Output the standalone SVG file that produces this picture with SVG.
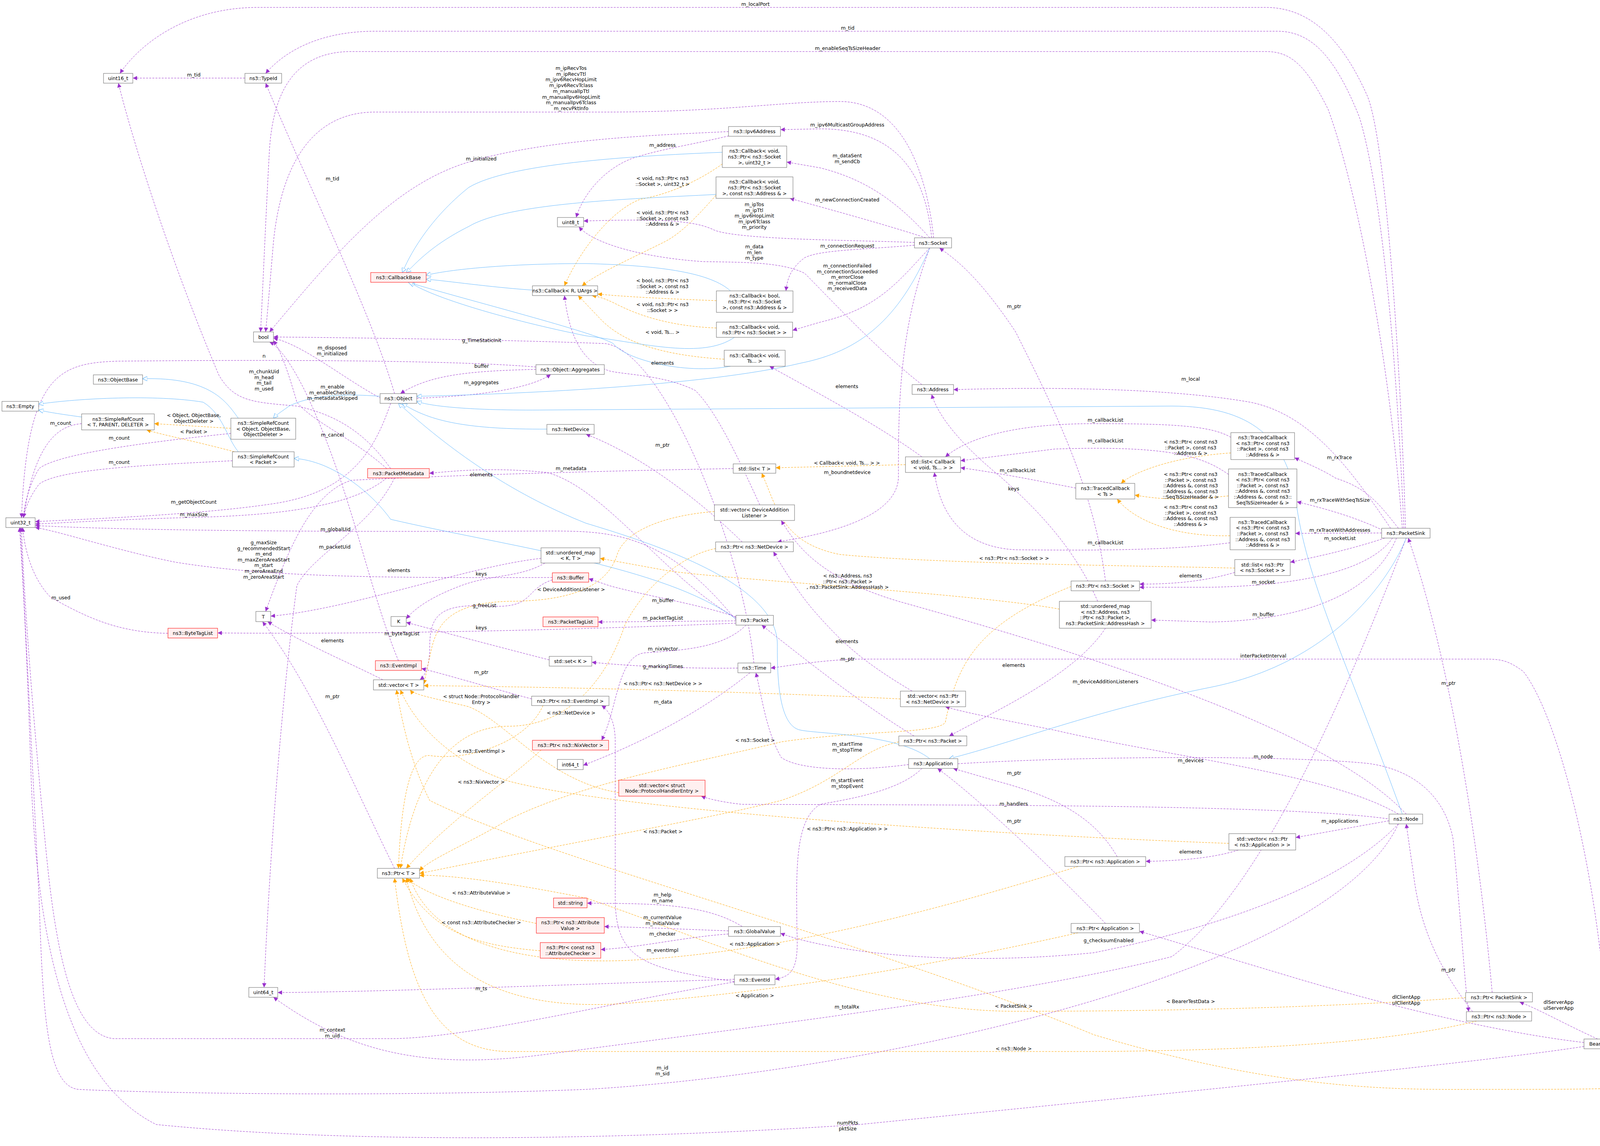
<svg xmlns="http://www.w3.org/2000/svg" width="4717" height="2935" viewBox="0 0 4717 2935">
<style>
text{font-family:"DejaVu Sans","Liberation Sans",sans-serif;font-size:12.5px;fill:#000;text-anchor:middle}
.nd rect{fill:#fff;stroke:#666;stroke-width:1}
.rd rect{fill:#fff0f0;stroke:#f00;stroke-width:1}
.gd rect{fill:#999;stroke:#666;stroke-width:1}
.p{fill:none;stroke:#9a32cd;stroke-width:1;stroke-dasharray:5,3;marker-end:url(#mp)}
.o{fill:none;stroke:#ffa500;stroke-width:1;stroke-dasharray:5,3;marker-end:url(#mo)}
.b{fill:none;stroke:#63b8ff;stroke-width:1;marker-end:url(#mb)}
</style>
<defs>
<marker id="mp" viewBox="0 0 10 10" refX="10" refY="5" markerWidth="11" markerHeight="11" markerUnits="userSpaceOnUse" orient="auto"><path d="M0,0 L10,5 L0,10 z" fill="#9a32cd"/></marker>
<marker id="mo" viewBox="0 0 10 10" refX="10" refY="5" markerWidth="11" markerHeight="11" markerUnits="userSpaceOnUse" orient="auto"><path d="M0,0 L10,5 L0,10 z" fill="#ffa500"/></marker>
<marker id="mb" viewBox="0 0 10 10" refX="10" refY="5" markerWidth="12" markerHeight="12" markerUnits="userSpaceOnUse" orient="auto"><path d="M0,0 L10,5 L0,10 z" fill="#fff" stroke="#63b8ff"/></marker>
</defs>
<rect width="4717" height="2935" fill="#fff"/>
<g id="edges">
<path class="p" d="M3598,1353 C3585,900 3545,350 3500,245 C3440,110 3360,19 3240,19 L660,19 C480,19 360,110 307,188"/>
<path class="p" d="M3594,1353 C3575,900 3535,480 3480,300 C3420,150 3360,80 3270,80 L960,80 C820,80 730,130 680,188"/>
<path class="p" d="M3590,1353 C3560,950 3480,500 3400,280 C3340,160 3300,132 3240,132 L900,132 C750,132 700,240 690,380 C680,560 672,760 667,850"/>
<path class="p" d="M2390,609 C2370,420 2300,260 2150,260 C2000,260 1850,287 1550,287 L960,287 C800,287 720,420 700,620 C690,740 683,820 680,850"/>
<path class="p" d="M1865,337 C1700,345 1400,355 1200,415 C1000,475 850,660 690,850"/>
<path class="p" d="M1866,348 C1750,375 1700,380 1620,405 C1540,435 1490,505 1475,557"/>
<path class="p" d="M2341,621 C2200,615 1900,615 1830,590 C1780,565 1700,560 1494,566"/>
<path class="p" d="M2360,985 C2250,900 2120,760 2060,700 C2000,670 1900,672 1800,670 C1650,660 1520,625 1482,581"/>
<path class="p" d="M2385,609 C2370,450 2300,330 2100,330 L1998,332"/>
<path class="p" d="M2380,609 C2300,520 2220,460 2100,430 L2014,415"/>
<path class="p" d="M2370,609 C2250,570 2100,530 2022,508"/>
<path class="p" d="M2341,628 C2200,640 2100,640 2060,660 C2020,690 2015,720 2012,745"/>
<path class="p" d="M2380,635 C2300,720 2250,790 2100,825 L2029,846"/>
<path class="p" d="M2380,635 C2300,850 2300,1050 2300,1220 C2300,1330 2100,1370 1990,1388"/>
<path class="p" d="M2830,1488 C2800,1250 2700,1050 2600,850 C2500,700 2440,660 2405,635"/>
<path class="p" d="M2360,1170 C2250,1090 2100,1010 1970,938"/>
<path class="p" d="M3560,1353 C3450,1190 3350,1060 3200,1030 C3000,995 2700,990 2441,998"/>
<path class="p" d="M3151,1120 C3100,1090 3000,1085 2800,1085 C2600,1085 2480,1120 2420,1170"/>
<path class="p" d="M3145,1215 C3080,1170 3000,1140 2700,1150 L2459,1180"/>
<path class="p" d="M2754,1250 C2650,1230 2550,1210 2459,1198"/>
<path class="p" d="M3149,1390 C3000,1410 2800,1410 2600,1408 C2450,1400 2405,1300 2392,1210"/>
<path class="p" d="M2810,1540 C2750,1400 2650,1300 2560,1220 C2450,1130 2400,1060 2385,1010"/>
<path class="p" d="M3580,1353 C3530,1290 3500,1250 3420,1225 C3380,1200 3340,1185 3314,1172"/>
<path class="p" d="M3540,1358 C3460,1320 3380,1300 3320,1285"/>
<path class="p" d="M3537,1365 L3316,1366"/>
<path class="p" d="M3545,1378 C3450,1410 3350,1430 3303,1440"/>
<path class="p" d="M3565,1378 C3500,1470 3300,1500 3100,1504 L2917,1504"/>
<path class="p" d="M3575,1378 C3500,1560 3250,1590 3100,1593 L2947,1588"/>
<path class="p" d="M3161,1466 C3080,1490 3000,1496 2917,1496"/>
<path class="p" d="M4115,2661 C4100,2300 4000,1850 3900,1720 C3860,1690 3840,1688 3800,1688 L2200,1688 C2100,1690 2000,1708 1973,1711"/>
<path class="p" d="M2830,1609 C2750,1730 2550,1820 2430,1885"/>
<path class="p" d="M2335,1770 C2200,1690 2150,1640 2080,1560 C2030,1500 1990,1430 1980,1413"/>
<path class="p" d="M2340,1885 C2200,1800 2050,1680 1950,1601"/>
<path class="p" d="M3600,2085 C3400,1870 2800,1680 2300,1540 C2100,1480 2040,1400 2000,1333"/>
<path class="p" d="M3580,2085 C3400,1980 3000,1940 2700,1870 C2550,1840 2470,1825 2420,1810"/>
<path class="p" d="M2452,1956 C2800,1935 3300,1935 3500,1955 C3620,1970 3700,2040 3720,2150 C3740,2350 3750,2530 3760,2591"/>
<path class="p" d="M3560,2098 C3300,2060 2500,2062 1900,2060 C1850,2055 1810,2045 1795,2039"/>
<path class="p" d="M3556,2102 L3317,2145"/>
<path class="p" d="M3170,2177 C3100,2200 3000,2205 2933,2206"/>
<path class="p" d="M2860,2194 C2800,2090 2700,2040 2550,2000 L2440,1968"/>
<path class="p" d="M2830,2365 C2700,2230 2500,2040 2400,1968"/>
<path class="p" d="M2326,1958 C2200,1975 2050,1975 2000,1940 C1960,1870 1950,1780 1935,1723"/>
<path class="p" d="M2360,1968 C2300,2030 2150,2050 2100,2060 C2030,2100 2040,2250 2040,2380 C2045,2480 2030,2500 1984,2508"/>
<path class="p" d="M1900,1388 C1800,1290 1650,1170 1500,1112"/>
<path class="p" d="M1884,1580 C1800,1550 1650,1525 1560,1500 L1507,1482"/>
<path class="p" d="M1884,1590 L1531,1593"/>
<path class="p" d="M1884,1596 C1500,1612 1000,1625 557,1621"/>
<path class="p" d="M1910,1601 C1850,1660 1750,1665 1650,1672 C1580,1680 1580,1820 1540,1896"/>
<path class="p" d="M1884,1582 C1700,1480 1550,1250 1400,1210 C1250,1195 1150,1208 1099,1212"/>
<path class="p" d="M1889,1711 C1750,1713 1600,1705 1515,1696"/>
<path class="p" d="M1920,1723 C1800,1820 1650,1900 1493,1960"/>
<path class="p" d="M1361,1790 C1250,1760 1150,1730 1079,1712"/>
<path class="p" d="M1406,1690 C1250,1650 1100,1610 1040,1594"/>
<path class="p" d="M1395,1442 C1330,1480 1260,1470 1180,1500 C1100,1530 1060,1560 1040,1585"/>
<path class="p" d="M1385,1430 C1200,1450 900,1560 693,1578"/>
<path class="p" d="M980,1741 C900,1700 780,1650 685,1592"/>
<path class="p" d="M1010,2224 C900,2000 800,1760 672,1592"/>
<path class="p" d="M1414,1485 C1340,1510 1370,1560 1250,1552 C1120,1545 1100,1580 1100,1660 C1100,1700 1090,1730 1075,1741"/>
<path class="p" d="M1414,1479 C1000,1480 700,1480 450,1440 C300,1410 150,1360 90,1351"/>
<path class="p" d="M1000,1033 C960,1150 900,1260 700,1290 C500,1320 200,1330 90,1336"/>
<path class="p" d="M990,1224 C900,1300 700,1320 500,1325 C300,1330 150,1340 90,1342"/>
<path class="p" d="M1884,1588 C1700,1360 1560,1360 1400,1360 C1000,1362 400,1362 90,1346"/>
<path class="p" d="M1010,1224 C950,1350 800,1420 760,1500 C720,1800 690,2200 676,2529"/>
<path class="p" d="M990,1200 C900,1120 800,1080 760,1030 C740,960 720,900 700,872"/>
<path class="p" d="M975,1020 C880,970 780,885 700,866"/>
<path class="p" d="M1372,940 C1200,925 800,920 300,925 C150,930 70,960 55,1326"/>
<path class="p" d="M1372,946 C1200,950 1100,960 1025,1008"/>
<path class="p" d="M1067,1020 C1200,1015 1350,1000 1410,959"/>
<path class="p" d="M1010,1008 C950,800 800,500 680,213"/>
<path class="p" d="M627,200 L340,200"/>
<path class="p" d="M1000,1200 C930,1100 850,1060 760,1040 C650,1030 600,1030 560,960 C450,700 350,400 303,213"/>
<path class="p" d="M1020,1692 C940,1500 900,1250 780,1000 C740,920 710,885 690,876"/>
<path class="p" d="M209,1085 C150,1090 90,1130 60,1326"/>
<path class="p" d="M591,1110 C400,1130 150,1160 100,1200 C70,1250 62,1300 60,1326"/>
<path class="p" d="M595,1180 C400,1190 150,1200 100,1240 C70,1280 63,1310 60,1326"/>
<path class="p" d="M430,1622 C300,1620 220,1580 130,1530 C80,1480 62,1400 58,1351"/>
<path class="p" d="M1880,2508 C1500,2520 1000,2540 711,2542"/>
<path class="p" d="M1880,2515 C1600,2560 1200,2660 1000,2660 L290,2660 C200,2650 150,2500 120,2200 C80,1800 60,1500 55,1351"/>
<path class="p" d="M3580,2110 C3400,2500 2200,2750 1500,2790 C1000,2810 400,2800 200,2790 C120,2780 110,2600 100,2300 C80,1900 60,1500 52,1351"/>
<path class="p" d="M4055,2680 C3800,2720 3000,2800 2200,2880 C1600,2920 900,2930 400,2880 C200,2780 100,2500 80,2000 C70,1700 60,1500 50,1351"/>
<path class="p" d="M3600,1378 C3400,1900 3200,2300 3000,2450 C2600,2550 2000,2620 1400,2700 C1100,2740 900,2700 700,2554"/>
<path class="p" d="M1900,2373 C1800,2310 1650,2315 1503,2313"/>
<path class="p" d="M1865,2384 C1750,2380 1650,2375 1547,2373"/>
<path class="p" d="M1865,2392 C1750,2400 1650,2425 1538,2432"/>
<path class="p" d="M1880,2514 C1650,2480 1575,2460 1575,2300 L1575,1900 C1575,1850 1560,1820 1540,1807"/>
<path class="p" d="M3580,2110 C3400,2300 3000,2400 2800,2440 C2400,2480 2100,2430 1998,2390"/>
<path class="p" d="M3770,2591 C3700,2500 3640,2400 3620,2250 L3600,2110"/>
<path class="p" d="M3820,2542 C3780,2100 3700,1650 3605,1378"/>
<path class="p" d="M4090,2661 C4000,2620 3950,2590 3890,2566"/>
<path class="p" d="M4055,2670 C3800,2640 3500,2560 3300,2500 C3100,2440 3000,2410 2917,2385"/>
<path class="p" d="M4350,2738 C4250,2710 4200,2700 4165,2686"/>
<path class="p" style="stroke-width:3" d="M4614,2751 L4512,2751"/>
<path class="p" d="M1945,1293 C1880,1150 1830,1050 1780,1000 C1700,960 1600,960 1560,950 C1500,930 1460,880 1445,757"/>
<path class="p" d="M1877,1200 C1600,1205 1200,1215 900,1230 C800,1260 740,1400 680,1566"/>
<path class="p" d="M1930,1698 C1900,1400 1700,900 1550,880 C1300,870 900,865 700,863"/>
<path class="o" d="M1849,420 C1780,470 1700,500 1640,510 C1560,540 1480,650 1445,732"/>
<path class="o" d="M1833,500 C1780,560 1740,600 1700,620 C1620,660 1530,700 1490,732"/>
<path class="o" d="M1834,770 C1700,765 1600,760 1530,753"/>
<path class="o" d="M1834,840 C1700,835 1620,800 1580,780 C1550,765 1535,760 1515,757"/>
<path class="o" d="M1854,920 C1700,910 1600,880 1540,820 L1480,757"/>
<path class="o" d="M2318,1190 L1986,1198"/>
<path class="o" d="M3161,1455 C3000,1450 2400,1445 2150,1420 C2000,1390 1990,1300 1950,1212"/>
<path class="o" d="M3151,1160 C3000,1170 2900,1210 2870,1238"/>
<path class="o" d="M3145,1270 C3000,1285 2950,1275 2905,1268"/>
<path class="o" d="M3149,1372 C3000,1375 2900,1330 2860,1278"/>
<path class="o" d="M591,1097 L395,1085"/>
<path class="o" d="M600,1157 C500,1130 420,1115 375,1101"/>
<path class="o" d="M2712,1560 C2500,1520 1800,1480 1700,1460 L1536,1430"/>
<path class="o" d="M1829,1310 C1700,1320 1600,1360 1580,1420 C1550,1520 1420,1540 1300,1540 C1150,1545 1120,1600 1105,1660 L1085,1752"/>
<path class="o" d="M1584,2030 C1400,2000 1300,1850 1200,1810 C1120,1790 1060,1780 1050,1767"/>
<path class="o" d="M2305,1790 C2000,1775 1500,1760 1085,1756"/>
<path class="o" d="M3146,2160 C2600,2140 1600,2080 1300,2000 C1150,1950 1060,1850 1025,1767"/>
<path class="o" d="M4350,2764 C4250,2790 4100,2790 3800,2790 C3600,2790 3300,2800 2800,2650 C2200,2400 1400,2200 1100,2050 C1050,1950 1030,1850 1015,1767"/>
<path class="o" d="M1390,1807 C1350,1900 1200,1950 1100,1935 C1040,1930 1025,2100 1020,2224"/>
<path class="o" d="M1832,1405 C1750,1420 1650,1500 1600,1600 C1550,1750 1450,1860 1300,1860 C1150,1860 1060,2000 1025,2224"/>
<path class="o" d="M1385,1921 C1300,2000 1150,2100 1040,2224"/>
<path class="o" d="M1373,2365 C1250,2340 1100,2300 1040,2249"/>
<path class="o" d="M1383,2435 C1200,2420 1100,2380 1030,2249"/>
<path class="o" d="M2742,1502 C2500,1600 2450,1700 2420,1850 C2400,1880 2200,1870 2000,1900 C1800,1950 1500,2000 1300,2100 C1200,2160 1100,2200 1074,2230"/>
<path class="o" d="M2301,1900 C2200,1920 2150,2000 2000,2050 C1800,2100 1500,2150 1074,2237"/>
<path class="o" d="M2760,2219 C2400,2330 2000,2440 1600,2460 C1300,2470 1100,2400 1050,2249"/>
<path class="o" d="M2760,2389 C2400,2470 2000,2540 1600,2570 C1300,2590 1100,2500 1040,2249"/>
<path class="o" d="M3752,2555 C3400,2580 3000,2590 2600,2590 C2200,2590 1800,2400 1500,2300 C1300,2260 1150,2240 1074,2242"/>
<path class="o" d="M3780,2615 C3600,2660 3300,2690 2800,2693 L1300,2693 C1100,2690 1040,2500 1010,2249"/>
<path class="b" d="M1363,743 C1250,735 1150,720 1091,715"/>
<path class="b" d="M1849,390 C1600,400 1300,420 1200,480 C1100,560 1050,650 1030,698"/>
<path class="b" d="M1833,498 C1600,510 1300,520 1200,580 C1100,630 1060,680 1040,698"/>
<path class="b" d="M1870,745 C1820,700 1700,680 1500,675 C1300,675 1150,690 1091,705"/>
<path class="b" d="M1880,864 C1800,920 1650,880 1500,860 C1300,820 1100,760 1050,723"/>
<path class="b" d="M1870,938 C1750,960 1600,920 1570,880 C1520,850 1200,770 1045,723"/>
<path class="b" d="M2380,635 C2300,820 2200,900 2050,930 C1800,990 1300,1010 1067,1015"/>
<path class="b" d="M1400,1099 C1200,1100 1100,1080 1030,1033"/>
<path class="b" d="M3590,2085 C3450,1700 3350,1500 3320,1300 C3300,1120 3200,1040 3000,1040 L1400,1050 C1200,1052 1100,1040 1067,1028"/>
<path class="b" d="M2380,1943 C2300,1880 2100,1880 2050,1870 C1990,1860 1990,1720 1990,1650 C1990,1500 1700,1400 1500,1340 C1300,1260 1150,1150 1020,1033"/>
<path class="b" d="M3600,1378 C3550,1500 3400,1700 3100,1760 C2800,1820 2600,1900 2430,1943"/>
<path class="b" d="M973,1015 C850,1005 780,1020 740,1040 C720,1055 710,1060 700,1071"/>
<path class="b" d="M610,1071 C580,1030 540,965 365,970"/>
<path class="b" d="M610,1157 C580,1120 570,1060 520,1030 C400,1010 200,1020 99,1035"/>
<path class="b" d="M209,1068 C150,1060 120,1055 99,1050"/>
<path class="b" d="M1884,1585 C1700,1450 1300,1400 1000,1330 C950,1260 850,1180 753,1174"/>
</g>
<g id="edge-labels">
<text x="1934" y="15">m_localPort</text>
<text x="2170" y="76">m_tid</text>
<text x="2170" y="128">m_enableSeqTsSizeHeader</text>
<text x="1462" y="179">m_ipRecvTos<tspan x="1462" dy="14.7">m_ipRecvTtl</tspan><tspan x="1462" dy="14.7">m_ipv6RecvHopLimit</tspan><tspan x="1462" dy="14.7">m_ipv6RecvTclass</tspan><tspan x="1462" dy="14.7">m_manualIpTtl</tspan><tspan x="1462" dy="14.7">m_manualIpv6HopLimit</tspan><tspan x="1462" dy="14.7">m_manualIpv6Tclass</tspan><tspan x="1462" dy="14.7">m_recvPktInfo</tspan></text>
<text x="496" y="196">m_tid</text>
<text x="1232" y="411">m_initialized</text>
<text x="851" y="462">m_tid</text>
<text x="1233" y="876">g_TimeStaticInit</text>
<text x="850" y="895">m_disposed<tspan x="850" dy="14.6">m_initialized</tspan></text>
<text x="676" y="916">n</text>
<text x="676" y="956">m_chunkUid<tspan x="676" dy="14.6">m_head</tspan><tspan x="676" dy="14.6">m_tail</tspan><tspan x="676" dy="14.6">m_used</tspan></text>
<text x="1233" y="942">buffer</text>
<text x="1232" y="984">m_aggregates</text>
<text x="851" y="995">m_enable<tspan x="851" dy="14.6">m_enableChecking</tspan><tspan x="851" dy="14.6">m_metadataSkipped</tspan></text>
<text x="496" y="1068">&lt; Object, ObjectBase,<tspan x="496" dy="14.6">ObjectDeleter &gt;</tspan></text>
<text x="155" y="1088">m_count</text>
<text x="305" y="1126">m_count</text>
<text x="496" y="1110">&lt; Packet &gt;</text>
<text x="851" y="1118">m_cancel</text>
<text x="305" y="1188">m_count</text>
<text x="1462" y="1204">m_metadata</text>
<text x="1232" y="1220">elements</text>
<text x="496" y="1290">m_getObjectCount</text>
<text x="496" y="1322">m_maxSize</text>
<text x="859" y="1360">m_globalUid</text>
<text x="857" y="1405">m_packetUid</text>
<text x="675" y="1394">g_maxSize<tspan x="675" dy="14.6">g_recommendedStart</tspan><tspan x="675" dy="14.6">m_end</tspan><tspan x="675" dy="14.6">m_maxZeroAreaStart</tspan><tspan x="675" dy="14.6">m_start</tspan><tspan x="675" dy="14.6">m_zeroAreaEnd</tspan><tspan x="675" dy="14.6">m_zeroAreaStart</tspan></text>
<text x="1021" y="1465">elements</text>
<text x="1696" y="376">m_address</text>
<text x="1696" y="461">&lt; void, ns3::Ptr&lt; ns3<tspan x="1696" dy="14.6">::Socket &gt;, uint32_t &gt;</tspan></text>
<text x="1696" y="549">&lt; void, ns3::Ptr&lt; ns3<tspan x="1696" dy="14.6">::Socket &gt;, const ns3</tspan><tspan x="1696" dy="14.6">::Address &amp; &gt;</tspan></text>
<text x="1931" y="528">m_ipTos<tspan x="1931" dy="14.6">m_ipTtl</tspan><tspan x="1931" dy="14.6">m_ipv6HopLimit</tspan><tspan x="1931" dy="14.6">m_ipv6Tclass</tspan><tspan x="1931" dy="14.6">m_priority</tspan></text>
<text x="1931" y="636">m_data<tspan x="1931" dy="14.6">m_len</tspan><tspan x="1931" dy="14.6">m_type</tspan></text>
<text x="1696" y="723">&lt; bool, ns3::Ptr&lt; ns3<tspan x="1696" dy="14.6">::Socket &gt;, const ns3</tspan><tspan x="1696" dy="14.6">::Address &amp; &gt;</tspan></text>
<text x="1696" y="784">&lt; void, ns3::Ptr&lt; ns3<tspan x="1696" dy="14.6">::Socket &gt; &gt;</tspan></text>
<text x="1696" y="855">&lt; void, Ts... &gt;</text>
<text x="1696" y="934">elements</text>
<text x="1696" y="1144">m_ptr</text>
<text x="2169" y="324">m_ipv6MulticastGroupAddress</text>
<text x="2169" y="403">m_dataSent<tspan x="2169" dy="14.6">m_sendCb</tspan></text>
<text x="2169" y="516">m_newConnectionCreated</text>
<text x="2169" y="634">m_connectionRequest</text>
<text x="2169" y="685">m_connectionFailed<tspan x="2169" dy="14.6">m_connectionSucceeded</tspan><tspan x="2169" dy="14.6">m_errorClose</tspan><tspan x="2169" dy="14.6">m_normalClose</tspan><tspan x="2169" dy="14.6">m_receivedData</tspan></text>
<text x="2168" y="994">elements</text>
<text x="2168" y="1190">&lt; Callback&lt; void, Ts... &gt; &gt;</text>
<text x="2169" y="1214">m_boundnetdevice</text>
<text x="2596" y="789">m_ptr</text>
<text x="3048" y="975">m_local</text>
<text x="2830" y="1080">m_callbackList</text>
<text x="2830" y="1133">m_callbackList</text>
<text x="2605" y="1209">m_callbackList</text>
<text x="2830" y="1394">m_callbackList</text>
<text x="2595" y="1256">keys</text>
<text x="3048" y="1136">&lt; ns3::Ptr&lt; const ns3<tspan x="3048" dy="14.6">::Packet &gt;, const ns3</tspan><tspan x="3048" dy="14.6">::Address &amp; &gt;</tspan></text>
<text x="3048" y="1219">&lt; ns3::Ptr&lt; const ns3<tspan x="3048" dy="14.6">::Packet &gt;, const ns3</tspan><tspan x="3048" dy="14.6">::Address &amp;, const ns3</tspan><tspan x="3048" dy="14.6">::Address &amp;, const ns3</tspan><tspan x="3048" dy="14.6">::SeqTsSizeHeader &amp; &gt;</tspan></text>
<text x="3048" y="1303">&lt; ns3::Ptr&lt; const ns3<tspan x="3048" dy="14.6">::Packet &gt;, const ns3</tspan><tspan x="3048" dy="14.6">::Address &amp;, const ns3</tspan><tspan x="3048" dy="14.6">::Address &amp; &gt;</tspan></text>
<text x="2596" y="1434">&lt; ns3::Ptr&lt; ns3::Socket &gt; &gt;</text>
<text x="3429" y="1176">m_rxTrace</text>
<text x="3430" y="1285">m_rxTraceWithSeqTsSize</text>
<text x="3430" y="1362">m_rxTraceWithAddresses</text>
<text x="3430" y="1383">m_socketList</text>
<text x="1232" y="1474">keys</text>
<text x="1462" y="1514">&lt; DeviceAdditionListener &gt;</text>
<text x="156" y="1535">m_used</text>
<text x="1240" y="1555">g_freeList</text>
<text x="1232" y="1612">keys</text>
<text x="1029" y="1627">m_byteTagList</text>
<text x="851" y="1645">elements</text>
<text x="1232" y="1726">m_ptr</text>
<text x="1232" y="1788">&lt; struct Node::ProtocolHandler<tspan x="1232" dy="14.6">Entry &gt;</tspan></text>
<text x="851" y="1788">m_ptr</text>
<text x="1462" y="1830">&lt; ns3::NetDevice &gt;</text>
<text x="1232" y="1928">&lt; ns3::EventImpl &gt;</text>
<text x="1232" y="2007">&lt; ns3::NixVector &gt;</text>
<text x="1232" y="2291">&lt; ns3::AttributeValue &gt;</text>
<text x="1232" y="2367">&lt; const ns3::AttributeChecker &gt;</text>
<text x="1232" y="2536">m_ts</text>
<text x="851" y="2642">m_context<tspan x="851" dy="14.6">m_uid</tspan></text>
<text x="2170" y="1479">&lt; ns3::Address, ns3<tspan x="2170" dy="14.6">::Ptr&lt; ns3::Packet &gt;</tspan><tspan x="2170" dy="14.6">, ns3::PacketSink::AddressHash &gt;</tspan></text>
<text x="3048" y="1479">elements</text>
<text x="1697" y="1542">m_buffer</text>
<text x="1697" y="1587">m_packetTagList</text>
<text x="2168" y="1647">elements</text>
<text x="1697" y="1666">m_nixVector</text>
<text x="2170" y="1692">m_ptr</text>
<text x="1697" y="1711">g_markingTimes</text>
<text x="2595" y="1708">elements</text>
<text x="2830" y="1750">m_deviceAdditionListeners</text>
<text x="1697" y="1755">&lt; ns3::Ptr&lt; ns3::NetDevice &gt; &gt;</text>
<text x="1697" y="1802">m_data</text>
<text x="1933" y="1900">&lt; ns3::Socket &gt;</text>
<text x="2169" y="1910">m_startTime<tspan x="2169" dy="14.6">m_stopTime</tspan></text>
<text x="3048" y="1952">m_devices</text>
<text x="2596" y="1984">m_ptr</text>
<text x="2169" y="2003">m_startEvent<tspan x="2169" dy="14.6">m_stopEvent</tspan></text>
<text x="2595" y="2063">m_handlers</text>
<text x="2596" y="2107">m_ptr</text>
<text x="1697" y="2134">&lt; ns3::Packet &gt;</text>
<text x="2169" y="2127">&lt; ns3::Ptr&lt; ns3::Application &gt; &gt;</text>
<text x="3048" y="2186">elements</text>
<text x="1696" y="2296">m_help<tspan x="1696" dy="14.6">m_name</tspan></text>
<text x="1696" y="2354">m_currentValue<tspan x="1696" dy="14.6">m_initialValue</tspan></text>
<text x="1696" y="2396">m_checker</text>
<text x="2838" y="2413">g_checksumEnabled</text>
<text x="1932" y="2422">&lt; ns3::Application &gt;</text>
<text x="1696" y="2438">m_eventImpl</text>
<text x="1932" y="2554">&lt; Application &gt;</text>
<text x="3048" y="2569">&lt; BearerTestData &gt;</text>
<text x="2595" y="2581">&lt; PacketSink &gt;</text>
<text x="2168" y="2583">m_totalRx</text>
<text x="2595" y="2690">&lt; ns3::Node &gt;</text>
<text x="1696" y="2739">m_id<tspan x="1696" dy="14.6">m_sid</tspan></text>
<text x="2170" y="2880">numPkts<tspan x="2170" dy="14.6">pktSize</tspan></text>
<text x="3234" y="1495">m_socket</text>
<text x="3234" y="1578">m_buffer</text>
<text x="3234" y="1684">interPacketInterval</text>
<text x="3708" y="1754">m_ptr</text>
<text x="3234" y="1942">m_node</text>
<text x="3430" y="2107">m_applications</text>
<text x="3708" y="2488">m_ptr</text>
<text x="3600" y="2558">dlClientApp<tspan x="3600" dy="14.6">ulClientApp</tspan></text>
<text x="3990" y="2571">dlServerApp<tspan x="3990" dy="14.6">ulServerApp</tspan></text>
<text x="4237" y="2694">elements</text>
<text x="4565" y="2747">bearers</text>
</g>
<g id="uint16" class="nd"><rect x="265" y="188" width="75" height="25"/><text x="302.5" y="205">uint16_t</text></g>
<g id="typeid" class="nd"><rect x="627" y="188" width="94" height="25"/><text x="674" y="205">ns3::TypeId</text></g>
<g id="bool" class="nd"><rect x="649" y="850" width="51" height="26"/><text x="674.5" y="867.5">bool</text></g>
<g id="callbackbase" class="rd"><rect x="949" y="698" width="142" height="25"/><text x="1020" y="715">ns3::CallbackBase</text></g>
<g id="uint8" class="nd"><rect x="1427" y="557" width="67" height="24"/><text x="1460.5" y="573.5">uint8_t</text></g>
<g id="callbackRU" class="nd"><rect x="1363" y="732" width="167" height="25"/><text x="1446.5" y="749">ns3::Callback&lt; R, UArgs &gt;</text></g>
<g id="objectbase" class="nd"><rect x="239" y="960" width="126" height="24"/><text x="302" y="976.5">ns3::ObjectBase</text></g>
<g id="empty" class="nd"><rect x="5" y="1028" width="94" height="25"/><text x="52" y="1045">ns3::Empty</text></g>
<g id="srcT" class="nd"><rect x="209" y="1060" width="186" height="41"/><text x="302" y="1077.7">ns3::SimpleRefCount<tspan x="302" dy="14.6">&lt; T, PARENT, DELETER &gt;</tspan></text></g>
<g id="srcObj" class="nd"><rect x="591" y="1071" width="166" height="54"/><text x="674" y="1087.9">ns3::SimpleRefCount<tspan x="674" dy="14.6">&lt; Object, ObjectBase,</tspan><tspan x="674" dy="14.6">ObjectDeleter &gt;</tspan></text></g>
<g id="srcPkt" class="nd"><rect x="595" y="1157" width="158" height="39"/><text x="674" y="1173.7">ns3::SimpleRefCount<tspan x="674" dy="14.6">&lt; Packet &gt;</tspan></text></g>
<g id="aggregates" class="nd"><rect x="1372" y="934" width="175" height="25"/><text x="1459.5" y="951">ns3::Object::Aggregates</text></g>
<g id="object" class="nd"><rect x="973" y="1008" width="94" height="25"/><text x="1020" y="1025">ns3::Object</text></g>
<g id="netdevice" class="nd"><rect x="1400" y="1087" width="121" height="25"/><text x="1460.5" y="1104">ns3::NetDevice</text></g>
<g id="packetmetadata" class="rd"><rect x="941" y="1200" width="158" height="24"/><text x="1020" y="1216.5">ns3::PacketMetadata</text></g>
<g id="uint32" class="nd"><rect x="15" y="1326" width="75" height="25"/><text x="52.5" y="1343">uint32_t</text></g>
<g id="umapKT" class="nd"><rect x="1385" y="1403" width="151" height="39"/><text x="1460.5" y="1419.7">std::unordered_map<tspan x="1460.5" dy="14.6">&lt; K, T &gt;</tspan></text></g>
<g id="ipv6address" class="nd"><rect x="1865" y="324" width="133" height="25"/><text x="1931.5" y="341">ns3::Ipv6Address</text></g>
<g id="cbU32" class="nd"><rect x="1849" y="374" width="165" height="55"/><text x="1931.5" y="391.4">ns3::Callback&lt; void,<tspan x="1931.5" dy="14.6">ns3::Ptr&lt; ns3::Socket</tspan><tspan x="1931.5" dy="14.6">&gt;, uint32_t &gt;</tspan></text></g>
<g id="cbAddr" class="nd"><rect x="1833" y="453" width="197" height="55"/><text x="1931.5" y="470.4">ns3::Callback&lt; void,<tspan x="1931.5" dy="14.6">ns3::Ptr&lt; ns3::Socket</tspan><tspan x="1931.5" dy="14.6">&gt;, const ns3::Address &amp; &gt;</tspan></text></g>
<g id="socket" class="nd"><rect x="2341" y="609" width="95" height="26"/><text x="2388.5" y="626.5">ns3::Socket</text></g>
<g id="cbBool" class="nd"><rect x="1834" y="745" width="196" height="55"/><text x="1932" y="762.4">ns3::Callback&lt; bool,<tspan x="1932" dy="14.6">ns3::Ptr&lt; ns3::Socket</tspan><tspan x="1932" dy="14.6">&gt;, const ns3::Address &amp; &gt;</tspan></text></g>
<g id="cbSock" class="nd"><rect x="1834" y="825" width="195" height="39"/><text x="1931.5" y="841.7">ns3::Callback&lt; void,<tspan x="1931.5" dy="14.6">ns3::Ptr&lt; ns3::Socket &gt; &gt;</tspan></text></g>
<g id="cbTs" class="nd"><rect x="1854" y="897" width="156" height="41"/><text x="1932" y="914.7">ns3::Callback&lt; void,<tspan x="1932" dy="14.6">Ts... &gt;</tspan></text></g>
<g id="address" class="nd"><rect x="2335" y="985" width="106" height="25"/><text x="2388" y="1002">ns3::Address</text></g>
<g id="listT" class="nd"><rect x="1877" y="1188" width="109" height="24"/><text x="1931.5" y="1204.5">std::list&lt; T &gt;</text></g>
<g id="listCb" class="nd"><rect x="2318" y="1170" width="141" height="40"/><text x="2388.5" y="1187.2">std::list&lt; Callback<tspan x="2388.5" dy="14.6">&lt; void, Ts... &gt; &gt;</tspan></text></g>
<g id="tcTs" class="nd"><rect x="2754" y="1238" width="151" height="40"/><text x="2829.5" y="1255.2">ns3::TracedCallback<tspan x="2829.5" dy="14.6">&lt; Ts &gt;</tspan></text></g>
<g id="vecDAL" class="nd"><rect x="1829" y="1293" width="205" height="40"/><text x="1931.5" y="1310.2">std::vector&lt; DeviceAddition<tspan x="1931.5" dy="14.6">Listener &gt;</tspan></text></g>
<g id="ptrND" class="nd"><rect x="1832" y="1388" width="199" height="25"/><text x="1931.5" y="1405">ns3::Ptr&lt; ns3::NetDevice &gt;</text></g>
<g id="tc1" class="nd"><rect x="3151" y="1108" width="163" height="69"/><text x="3232.5" y="1125.1">ns3::TracedCallback<tspan x="3232.5" dy="14.6">&lt; ns3::Ptr&lt; const ns3</tspan><tspan x="3232.5" dy="14.6">::Packet &gt;, const ns3</tspan><tspan x="3232.5" dy="14.6">::Address &amp; &gt;</tspan></text></g>
<g id="tc6" class="nd"><rect x="3145" y="1201" width="175" height="99"/><text x="3232.5" y="1218.5">ns3::TracedCallback<tspan x="3232.5" dy="14.6">&lt; ns3::Ptr&lt; const ns3</tspan><tspan x="3232.5" dy="14.6">::Packet &gt;, const ns3</tspan><tspan x="3232.5" dy="14.6">::Address &amp;, const ns3</tspan><tspan x="3232.5" dy="14.6">::Address &amp;, const ns3::</tspan><tspan x="3232.5" dy="14.6">SeqTsSizeHeader &amp; &gt;</tspan></text></g>
<g id="tc5" class="nd"><rect x="3149" y="1325" width="167" height="83"/><text x="3232.5" y="1341.8">ns3::TracedCallback<tspan x="3232.5" dy="14.6">&lt; ns3::Ptr&lt; const ns3</tspan><tspan x="3232.5" dy="14.6">::Packet &gt;, const ns3</tspan><tspan x="3232.5" dy="14.6">::Address &amp;, const ns3</tspan><tspan x="3232.5" dy="14.6">::Address &amp; &gt;</tspan></text></g>
<g id="packetsink" class="nd"><rect x="3537" y="1353" width="124" height="25"/><text x="3599" y="1370">ns3::PacketSink</text></g>
<g id="listPS" class="nd"><rect x="3161" y="1433" width="142" height="41"/><text x="3232" y="1450.7">std::list&lt; ns3::Ptr<tspan x="3232" dy="14.6">&lt; ns3::Socket &gt; &gt;</tspan></text></g>
<g id="buffer" class="rd"><rect x="1414" y="1467" width="93" height="24"/><text x="1460.5" y="1483.5">ns3::Buffer</text></g>
<g id="T" class="nd"><rect x="655" y="1566" width="38" height="26"/><text x="674" y="1583.5">T</text></g>
<g id="K" class="nd"><rect x="1001" y="1579" width="39" height="25"/><text x="1020.5" y="1596">K</text></g>
<g id="packettaglist" class="rd"><rect x="1390" y="1580" width="141" height="25"/><text x="1460.5" y="1597">ns3::PacketTagList</text></g>
<g id="bytetaglist" class="rd"><rect x="430" y="1609" width="127" height="25"/><text x="493.5" y="1626">ns3::ByteTagList</text></g>
<g id="setK" class="nd"><rect x="1406" y="1681" width="109" height="25"/><text x="1460.5" y="1698">std::set&lt; K &gt;</text></g>
<g id="eventimpl" class="rd"><rect x="961" y="1692" width="118" height="25"/><text x="1020" y="1709">ns3::EventImpl</text></g>
<g id="vecT" class="nd"><rect x="956" y="1741" width="129" height="26"/><text x="1020.5" y="1758.5">std::vector&lt; T &gt;</text></g>
<g id="ptrEI" class="nd"><rect x="1361" y="1783" width="198" height="24"/><text x="1460" y="1799.5">ns3::Ptr&lt; ns3::EventImpl &gt;</text></g>
<g id="ptrNix" class="rd"><rect x="1363" y="1896" width="195" height="25"/><text x="1460.5" y="1913">ns3::Ptr&lt; ns3::NixVector &gt;</text></g>
<g id="int64" class="nd"><rect x="1427" y="1945" width="66" height="26"/><text x="1460" y="1962.5">int64_t</text></g>
<g id="ptrT" class="nd"><rect x="966" y="2224" width="108" height="25"/><text x="1020" y="2241">ns3::Ptr&lt; T &gt;</text></g>
<g id="string" class="rd"><rect x="1417" y="2300" width="86" height="25"/><text x="1460" y="2317">std::string</text></g>
<g id="ptrAV" class="rd"><rect x="1373" y="2350" width="174" height="40"/><text x="1460" y="2367.2">ns3::Ptr&lt; ns3::Attribute<tspan x="1460" dy="14.6">Value &gt;</tspan></text></g>
<g id="ptrAC" class="rd"><rect x="1383" y="2414" width="155" height="40"/><text x="1460.5" y="2431.2">ns3::Ptr&lt; const ns3<tspan x="1460.5" dy="14.6">::AttributeChecker &gt;</tspan></text></g>
<g id="uint64" class="nd"><rect x="637" y="2529" width="74" height="25"/><text x="674" y="2546">uint64_t</text></g>
<g id="packet" class="nd"><rect x="1884" y="1576" width="96" height="25"/><text x="1932" y="1593">ns3::Packet</text></g>
<g id="ptrSock" class="nd"><rect x="2742" y="1488" width="175" height="25"/><text x="2829.5" y="1505">ns3::Ptr&lt; ns3::Socket &gt;</text></g>
<g id="umapAddr" class="nd"><rect x="2712" y="1540" width="235" height="69"/><text x="2829.5" y="1557.1">std::unordered_map<tspan x="2829.5" dy="14.6">&lt; ns3::Address, ns3</tspan><tspan x="2829.5" dy="14.6">::Ptr&lt; ns3::Packet &gt;,</tspan><tspan x="2829.5" dy="14.6">ns3::PacketSink::AddressHash &gt;</tspan></text></g>
<g id="time" class="nd"><rect x="1889" y="1698" width="84" height="25"/><text x="1931" y="1715">ns3::Time</text></g>
<g id="vecPND" class="nd"><rect x="2305" y="1770" width="167" height="40"/><text x="2388.5" y="1787.2">std::vector&lt; ns3::Ptr<tspan x="2388.5" dy="14.6">&lt; ns3::NetDevice &gt; &gt;</tspan></text></g>
<g id="ptrPkt" class="nd"><rect x="2301" y="1885" width="174" height="25"/><text x="2388" y="1902">ns3::Ptr&lt; ns3::Packet &gt;</text></g>
<g id="application" class="nd"><rect x="2326" y="1943" width="126" height="25"/><text x="2389" y="1960">ns3::Application</text></g>
<g id="vecPHE" class="rd"><rect x="1584" y="1998" width="221" height="41"/><text x="1694.5" y="2015.7">std::vector&lt; struct<tspan x="1694.5" dy="14.6">Node::ProtocolHandlerEntry &gt;</tspan></text></g>
<g id="ptrApp" class="nd"><rect x="2726" y="2194" width="207" height="25"/><text x="2829.5" y="2211">ns3::Ptr&lt; ns3::Application &gt;</text></g>
<g id="globalvalue" class="nd"><rect x="1865" y="2373" width="133" height="25"/><text x="1931.5" y="2390">ns3::GlobalValue</text></g>
<g id="ptrApp2" class="nd"><rect x="2742" y="2365" width="175" height="24"/><text x="2829.5" y="2381.5">ns3::Ptr&lt; Application &gt;</text></g>
<g id="eventid" class="nd"><rect x="1880" y="2497" width="104" height="25"/><text x="1932" y="2514">ns3::EventId</text></g>
<g id="node" class="nd"><rect x="3556" y="2085" width="86" height="25"/><text x="3599" y="2102">ns3::Node</text></g>
<g id="vecPApp" class="nd"><rect x="3146" y="2135" width="171" height="42"/><text x="3231.5" y="2153.2">std::vector&lt; ns3::Ptr<tspan x="3231.5" dy="14.6">&lt; ns3::Application &gt; &gt;</tspan></text></g>
<g id="ptrPS" class="nd"><rect x="3752" y="2542" width="171" height="24"/><text x="3837.5" y="2558.5">ns3::Ptr&lt; PacketSink &gt;</text></g>
<g id="ptrNode" class="nd"><rect x="3754" y="2591" width="167" height="24"/><text x="3837.5" y="2607.5">ns3::Ptr&lt; ns3::Node &gt;</text></g>
<g id="bearer" class="nd"><rect x="4055" y="2661" width="123" height="25"/><text x="4116.5" y="2678">BearerTestData</text></g>
<g id="vecBTD" class="nd"><rect x="4291" y="2738" width="221" height="26"/><text x="4401.5" y="2755.5">std::vector&lt; BearerTestData &gt;</text></g>
<g id="ueTestData" class="gd"><rect x="4614" y="2738" width="97" height="26"/><text x="4662.5" y="2755.5">UeTestData</text></g>
</svg>
